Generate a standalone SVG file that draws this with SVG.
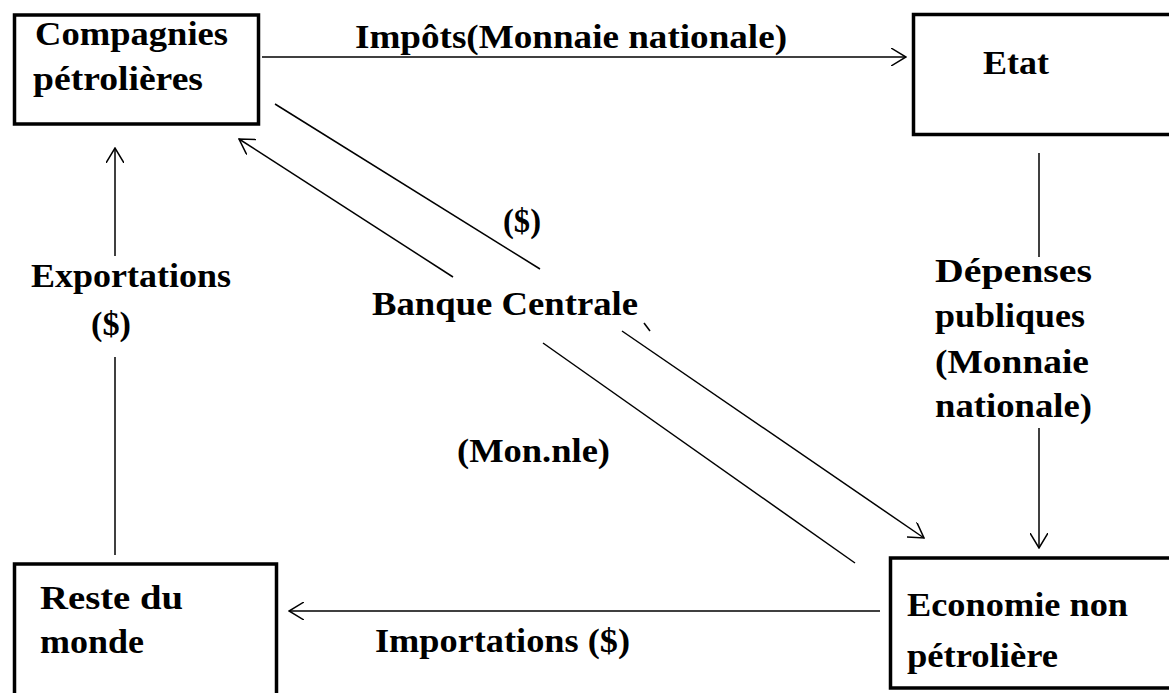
<svg xmlns="http://www.w3.org/2000/svg" width="1169" height="693" viewBox="0 0 1169 693">
<defs>
<style>
.box{fill:#fff;stroke:#000;stroke-width:3.5}
.c{fill:none;stroke:#000;stroke-width:1.5}
.t{font-family:"Liberation Serif","Times New Roman",serif;font-weight:bold;font-size:34px;fill:#000}
</style>
<marker id="ah" viewBox="0 0 16 18" refX="15" refY="9" markerWidth="16" markerHeight="18" markerUnits="userSpaceOnUse" orient="auto">
<path d="M0,0 L15,9 L0,18" fill="none" stroke="#000" stroke-width="1.5"/>
</marker>
</defs>
<rect width="1169" height="693" fill="#fff"/>
<g id="connectors">
<line class="c" x1="262" y1="57" x2="906" y2="57" marker-end="url(#ah)"/>
<line class="c" x1="115" y1="256" x2="115" y2="148" marker-end="url(#ah)"/>
<line class="c" x1="115" y1="555" x2="115" y2="357"/>
<line class="c" x1="1039" y1="153" x2="1039" y2="257"/>
<line class="c" x1="1039" y1="428" x2="1039" y2="548" marker-end="url(#ah)"/>
<line class="c" x1="880" y1="611" x2="289" y2="611" marker-end="url(#ah)"/>
<line class="c" x1="275" y1="104" x2="540" y2="269"/>
<line class="c" x1="453" y1="277" x2="239" y2="139" marker-end="url(#ah)"/>
<line class="c" x1="622" y1="331" x2="924" y2="538" marker-end="url(#ah)"/>
<line class="c" x1="543" y1="343" x2="855" y2="563"/>
<line class="c" x1="644" y1="323" x2="650" y2="331"/>
<text class="t" x="355" y="48" textLength="432" lengthAdjust="spacingAndGlyphs">Impôts(Monnaie nationale)</text>
<text class="t" x="31" y="287" textLength="200" lengthAdjust="spacingAndGlyphs">Exportations</text>
<text class="t" x="91" y="335" textLength="40" lengthAdjust="spacingAndGlyphs">($)</text>
<text class="t" x="935" y="282" textLength="157" lengthAdjust="spacingAndGlyphs">Dépenses</text>
<text class="t" x="935" y="327" textLength="150" lengthAdjust="spacingAndGlyphs">publiques</text>
<text class="t" x="935" y="373" textLength="154" lengthAdjust="spacingAndGlyphs">(Monnaie</text>
<text class="t" x="935" y="417" textLength="157" lengthAdjust="spacingAndGlyphs">nationale)</text>
<text class="t" x="375" y="652" textLength="255" lengthAdjust="spacingAndGlyphs">Importations ($)</text>
<text class="t" x="503" y="232" textLength="38" lengthAdjust="spacingAndGlyphs">($)</text>
<text class="t" x="372" y="315" textLength="266" lengthAdjust="spacingAndGlyphs">Banque Centrale</text>
<text class="t" x="457" y="462" textLength="153" lengthAdjust="spacingAndGlyphs">(Mon.nle)</text>
</g>
<g id="compagnies">
<rect class="box" x="14.5" y="15" width="244" height="109"/>
<text class="t" x="35" y="45" textLength="193" lengthAdjust="spacingAndGlyphs">Compagnies</text>
<text class="t" x="33" y="90" textLength="170" lengthAdjust="spacingAndGlyphs">pétrolières</text>
</g>
<g id="etat">
<rect class="box" x="913.5" y="14.5" width="270" height="120"/>
<text class="t" x="983" y="74" textLength="66" lengthAdjust="spacingAndGlyphs">Etat</text>
</g>
<g id="reste">
<rect class="box" x="14.5" y="564" width="262" height="140"/>
<text class="t" x="40" y="609" textLength="143" lengthAdjust="spacingAndGlyphs">Reste du</text>
<text class="t" x="40" y="653" textLength="104" lengthAdjust="spacingAndGlyphs">monde</text>
</g>
<g id="economie">
<rect class="box" x="890.5" y="558" width="290" height="130"/>
<text class="t" x="907" y="616" textLength="221" lengthAdjust="spacingAndGlyphs">Economie non</text>
<text class="t" x="907" y="667" textLength="151" lengthAdjust="spacingAndGlyphs">pétrolière</text>
</g>
</svg>
